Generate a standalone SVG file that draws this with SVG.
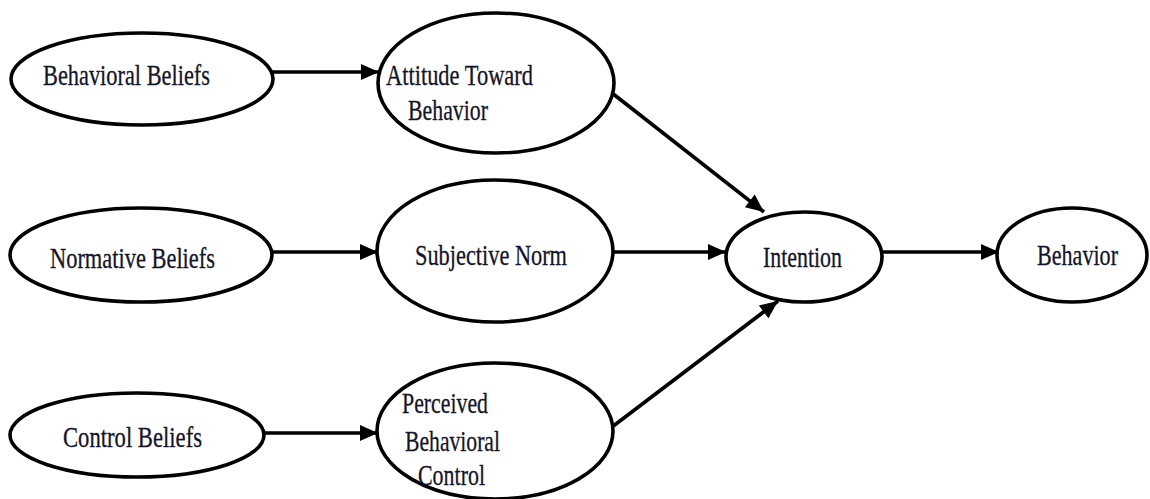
<svg xmlns="http://www.w3.org/2000/svg" width="1150" height="499" viewBox="0 0 1150 499">
  <style>
    .node ellipse { fill: #ffffff; stroke: #000000; stroke-width: 3.6; }
    .node text { font-family: "Liberation Serif", "Times New Roman", serif; font-size: 29px; fill: #15152a; stroke: #15152a; stroke-width: 0.3; }
    .edge { stroke: #000000; stroke-width: 3.6; fill: none; marker-end: url(#arrow); }
  </style>
  <defs>
    <marker id="arrow" markerUnits="userSpaceOnUse" markerWidth="20" markerHeight="20" viewBox="0 0 20 20" refX="19" refY="10" orient="auto">
      <path d="M1,2 L19,10 L1,18 Z" fill="#000000"/>
    </marker>
  </defs>
  <rect width="1150" height="499" fill="#ffffff"/>

  <!-- belief nodes -->
  <g id="behavioral-beliefs" class="node">
    <ellipse cx="142" cy="79" rx="131" ry="46"/>
    <text x="43" y="85" textLength="167" lengthAdjust="spacingAndGlyphs">Behavioral Beliefs</text>
  </g>
  <g id="normative-beliefs" class="node">
    <ellipse cx="141" cy="255" rx="131" ry="47"/>
    <text x="50" y="268" textLength="165" lengthAdjust="spacingAndGlyphs">Normative Beliefs</text>
  </g>
  <g id="control-beliefs" class="node">
    <ellipse cx="137" cy="435" rx="127" ry="42"/>
    <text x="63" y="447" textLength="139" lengthAdjust="spacingAndGlyphs">Control Beliefs</text>
  </g>

  <!-- determinant nodes -->
  <g id="attitude" class="node">
    <ellipse cx="496" cy="83" rx="118" ry="70"/>
    <text x="386" y="85" textLength="147" lengthAdjust="spacingAndGlyphs">Attitude Toward</text>
    <text x="408" y="120" textLength="80" lengthAdjust="spacingAndGlyphs">Behavior</text>
  </g>
  <g id="subjective-norm" class="node">
    <ellipse cx="495" cy="251" rx="118" ry="71"/>
    <text x="415" y="265" textLength="152" lengthAdjust="spacingAndGlyphs">Subjective Norm</text>
  </g>
  <g id="perceived-control" class="node">
    <ellipse cx="495" cy="431" rx="118" ry="68"/>
    <text x="402" y="413" textLength="86" lengthAdjust="spacingAndGlyphs">Perceived</text>
    <text x="405" y="451" textLength="95" lengthAdjust="spacingAndGlyphs">Behavioral</text>
    <text x="418" y="485" textLength="67" lengthAdjust="spacingAndGlyphs">Control</text>
  </g>

  <!-- outcome nodes -->
  <g id="intention" class="node">
    <ellipse cx="804" cy="257" rx="78" ry="45"/>
    <text x="763" y="267" textLength="79" lengthAdjust="spacingAndGlyphs">Intention</text>
  </g>
  <g id="behavior" class="node">
    <ellipse cx="1072" cy="255" rx="75" ry="47"/>
    <text x="1037" y="265" textLength="81" lengthAdjust="spacingAndGlyphs">Behavior</text>
  </g>

  <!-- connectors -->
  <g id="connectors">
    <line class="edge" x1="273" y1="72" x2="379" y2="72"/>
    <line class="edge" x1="272" y1="252" x2="378" y2="252"/>
    <line class="edge" x1="264" y1="433" x2="378" y2="433"/>
    <line class="edge" x1="612" y1="93" x2="764" y2="212"/>
    <line class="edge" x1="613" y1="252" x2="726" y2="252"/>
    <line class="edge" x1="612" y1="427" x2="778" y2="301"/>
    <line class="edge" x1="882" y1="252" x2="999" y2="252"/>
  </g>
</svg>
